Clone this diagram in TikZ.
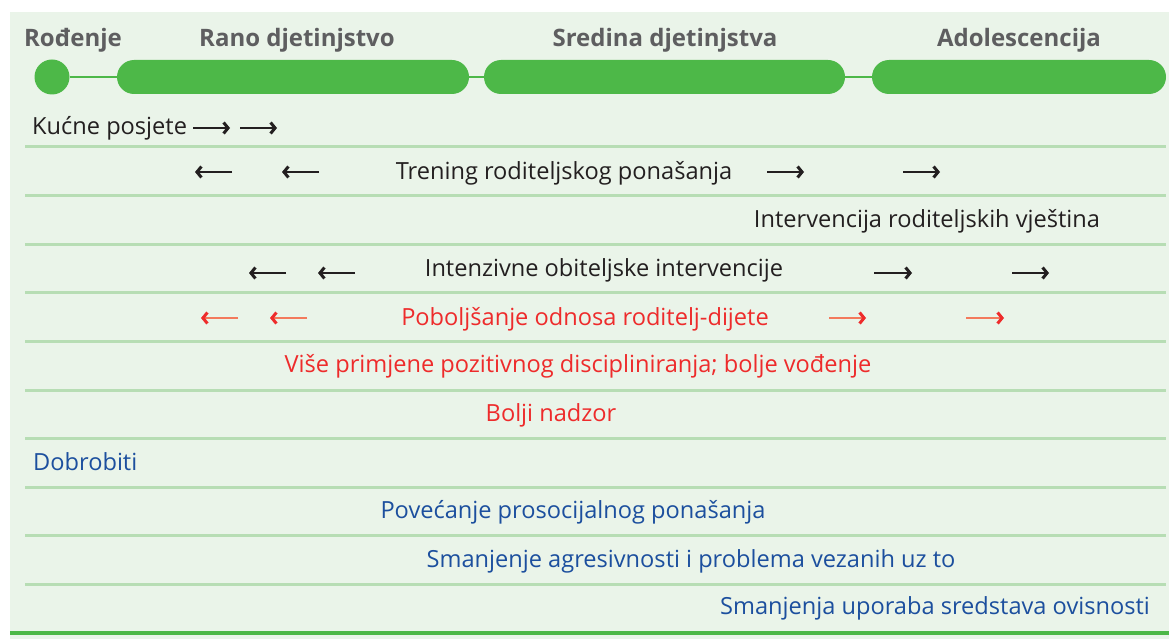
\documentclass[tikz,border=0pt]{standalone}
\usepackage{fontspec}
\setmainfont{Open Sans}
\usetikzlibrary{arrows.meta}
\definecolor{bgGreen}{HTML}{EAF4E9}
\definecolor{barGreen}{HTML}{4DB848}
\definecolor{sepGreen}{HTML}{B7DDB4}
\definecolor{headGray}{HTML}{5E5E60}
\definecolor{txtBlack}{HTML}{231F20}
\definecolor{txtRed}{HTML}{EE2B2B}
\definecolor{arrSalmon}{HTML}{F37A5C}
\definecolor{txtBlue}{HTML}{1C4F9E}

\begin{document}
\begin{tikzpicture}[x=1pt,y=-1pt]
\tikzstyle{heading}=[font=\fontsize{24}{28}\selectfont\bfseries, text=headGray, inner sep=0pt, anchor=base]
\tikzstyle{item}=[font=\fontsize{23.6}{28}\selectfont, inner sep=0pt, anchor=base]
\tikzstyle{bar}=[fill=barGreen, rounded corners=17pt, minimum height=34pt, inner sep=0pt]
\tikzstyle{link}=[barGreen, line width=2pt]
\tikzstyle{sep}=[sepGreen, line width=3pt]
\tikzstyle{blackarrow}=[txtBlack, line width=2.8pt, -{Straight Barb[length=4.5pt,width=11pt,line width=3pt]}]
\tikzstyle{redarrow}=[arrSalmon, line width=2.8pt, -{Straight Barb[length=4.5pt,width=11pt,line width=3pt,color=txtRed]}]
\useasboundingbox (0,0) rectangle (1169,639);
\fill[bgGreen] (10,12) rectangle (1169,639);
% time line
\node[heading] (hBirth) at (73,47) {Rođenje};
\node[heading] (hEarly) at (297,47) {Rano djetinjstvo};
\node[heading] (hMiddle) at (665,47) {Sredina djetinjstva};
\node[heading] (hAdol) at (1019,47) {Adolescencija};
\node[circle, fill=barGreen, minimum size=35pt, inner sep=0pt] (dBirth) at (52,77) {};
\node[bar, minimum width=352pt] (bEarly) at (293,77) {};
\node[bar, minimum width=361pt] (bMiddle) at (664.5,77) {};
\node[bar, minimum width=294pt] (bAdol) at (1019,77) {};
\draw[link] (dBirth) -- (bEarly);
\draw[link] (bEarly) -- (bMiddle);
\draw[link] (bMiddle) -- (bAdol);
% rows
\foreach \i in {0,...,9}
  \draw[sep] (25,{147+48.6*\i}) -- (1166,{147+48.6*\i});
\draw[barGreen, line width=3.5pt] (10,633) -- (1169,633);
\node[item, anchor=base west, text=txtBlack] (tVisits) at (32,135) {Kućne posjete};
\node[item, text=txtBlack] (tTraining) at (564,180) {Trening roditeljskog ponašanja};
\node[item, text=txtBlack] (tSkills) at (927,227) {Intervencija roditeljskih vještina};
\node[item, text=txtBlack] (tIntensive) at (604,276) {Intenzivne obiteljske intervencije};
\node[item, text=txtRed] (tRelation) at (585,325) {Poboljšanje odnosa roditelj-dijete};
\node[item, text=txtRed] (tDiscipline) at (578,372) {Više primjene pozitivnog discipliniranja; bolje vođenje};
\node[item, text=txtRed] (tSupervision) at (551,421) {Bolji nadzor};
\node[item, anchor=base west, text=txtBlue] (tBenefits) at (33,470) {Dobrobiti};
\node[item, text=txtBlue] (tProsocial) at (573,518) {Povećanje prosocijalnog ponašanja};
\node[item, text=txtBlue] (tAggression) at (691,567) {Smanjenje agresivnosti i problema vezanih uz to};
\node[item, text=txtBlue] (tSubstance) at (935,614) {Smanjenja uporaba sredstava ovisnosti};
% arrows
\foreach \a/\b/\y in {193/230/128, 240/277/128, 232/195/172, 319/282/172,
    767/804/172, 903/940/172, 286/249/273, 355/318/273, 874/912/273, 1012/1049/273}
  \draw[blackarrow] (\a,\y) -- (\b,\y);
\foreach \a/\b/\y in {238/201/318, 307/270/318, 829/866/318, 966/1004/318}
  \draw[redarrow] (\a,\y) -- (\b,\y);
\end{tikzpicture}
\end{document}
